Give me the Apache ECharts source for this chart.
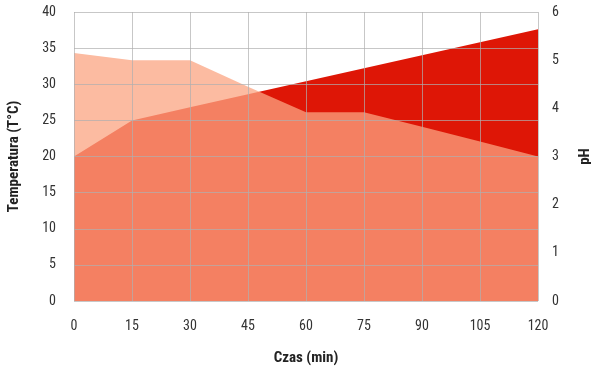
<!DOCTYPE html>
<html>
<head>
<meta charset="utf-8">
<script src="https://cdn.jsdelivr.net/npm/echarts@6/dist/echarts.min.js"></script>
<style>html,body{margin:0;padding:0;background:#fff}#c{width:591px;height:367px}</style>
</head>
<body>
<div id="c"></div>
<script>
var times = [0, 15, 30, 45, 60, 75, 90, 105, 120];
var temperature = [20, 25, 26.8, 28.6, 30.4, 32.2, 34, 35.8, 37.6];
var ph = [5.15, 5.0, 5.0, 4.45, 3.92, 3.92, 3.62, 3.31, 3.0];
var FONT = "'Roboto Condensed','Liberation Sans Narrow','DejaVu Sans Condensed',Roboto,sans-serif";
function pairs(xs, ys){ return xs.map(function(x,i){ return [x, ys[i]]; }); }
var chart = echarts.init(document.getElementById('c'), null, {renderer:'canvas'});
var split = {show:true, lineStyle:{color:'rgba(175,175,175,0.7)', width:1}};
chart.setOption({
  animation:false,
  textStyle:{fontFamily:FONT},
  grid:{left:74, right:53, top:12, bottom:66, containLabel:false, outerBoundsMode:'none'},
  xAxis:{type:'value', min:0, max:120, interval:15, z:5,
    name:'Czas (min)', nameLocation:'middle', nameGap:50,
    nameTextStyle:{fontFamily:FONT, fontWeight:'bold', fontSize:15, color:'#222'},
    axisLine:{show:false}, axisTick:{show:false},
    axisLabel:{fontFamily:FONT, fontSize:14, color:'#333', margin:18},
    splitLine:split},
  yAxis:[
    {type:'value', min:0, max:40, interval:5, z:5,
     name:'Temperatura (T°C)', nameLocation:'middle', nameGap:52,
     nameTextStyle:{fontFamily:FONT, fontWeight:'bold', fontSize:15, color:'#222'},
     axisLine:{show:false}, axisTick:{show:false},
     axisLabel:{fontFamily:FONT, fontSize:14, color:'#333', margin:18},
     splitLine:split},
    {type:'value', min:0, max:6, interval:1, z:5, position:'right',
     name:'pH', nameLocation:'middle', nameGap:40,
     nameTextStyle:{fontFamily:FONT, fontWeight:'bold', fontSize:15, color:'#222'},
     axisLine:{show:false}, axisTick:{show:false},
     axisLabel:{fontFamily:FONT, fontSize:14, color:'#333', margin:14},
     splitLine:{show:false}}
  ],
  series:[
    {name:'Temperatura', type:'line', yAxisIndex:0, z:1, data:pairs(times, temperature),
     symbol:'none', lineStyle:{width:0}, areaStyle:{color:'#de1606', opacity:1}},
    {name:'pH', type:'line', yAxisIndex:1, z:2, data:pairs(times, ph),
     symbol:'none', lineStyle:{width:0}, areaStyle:{color:'rgb(251,164,130)', opacity:0.75}}
  ]
});
</script>
</body>
</html>
